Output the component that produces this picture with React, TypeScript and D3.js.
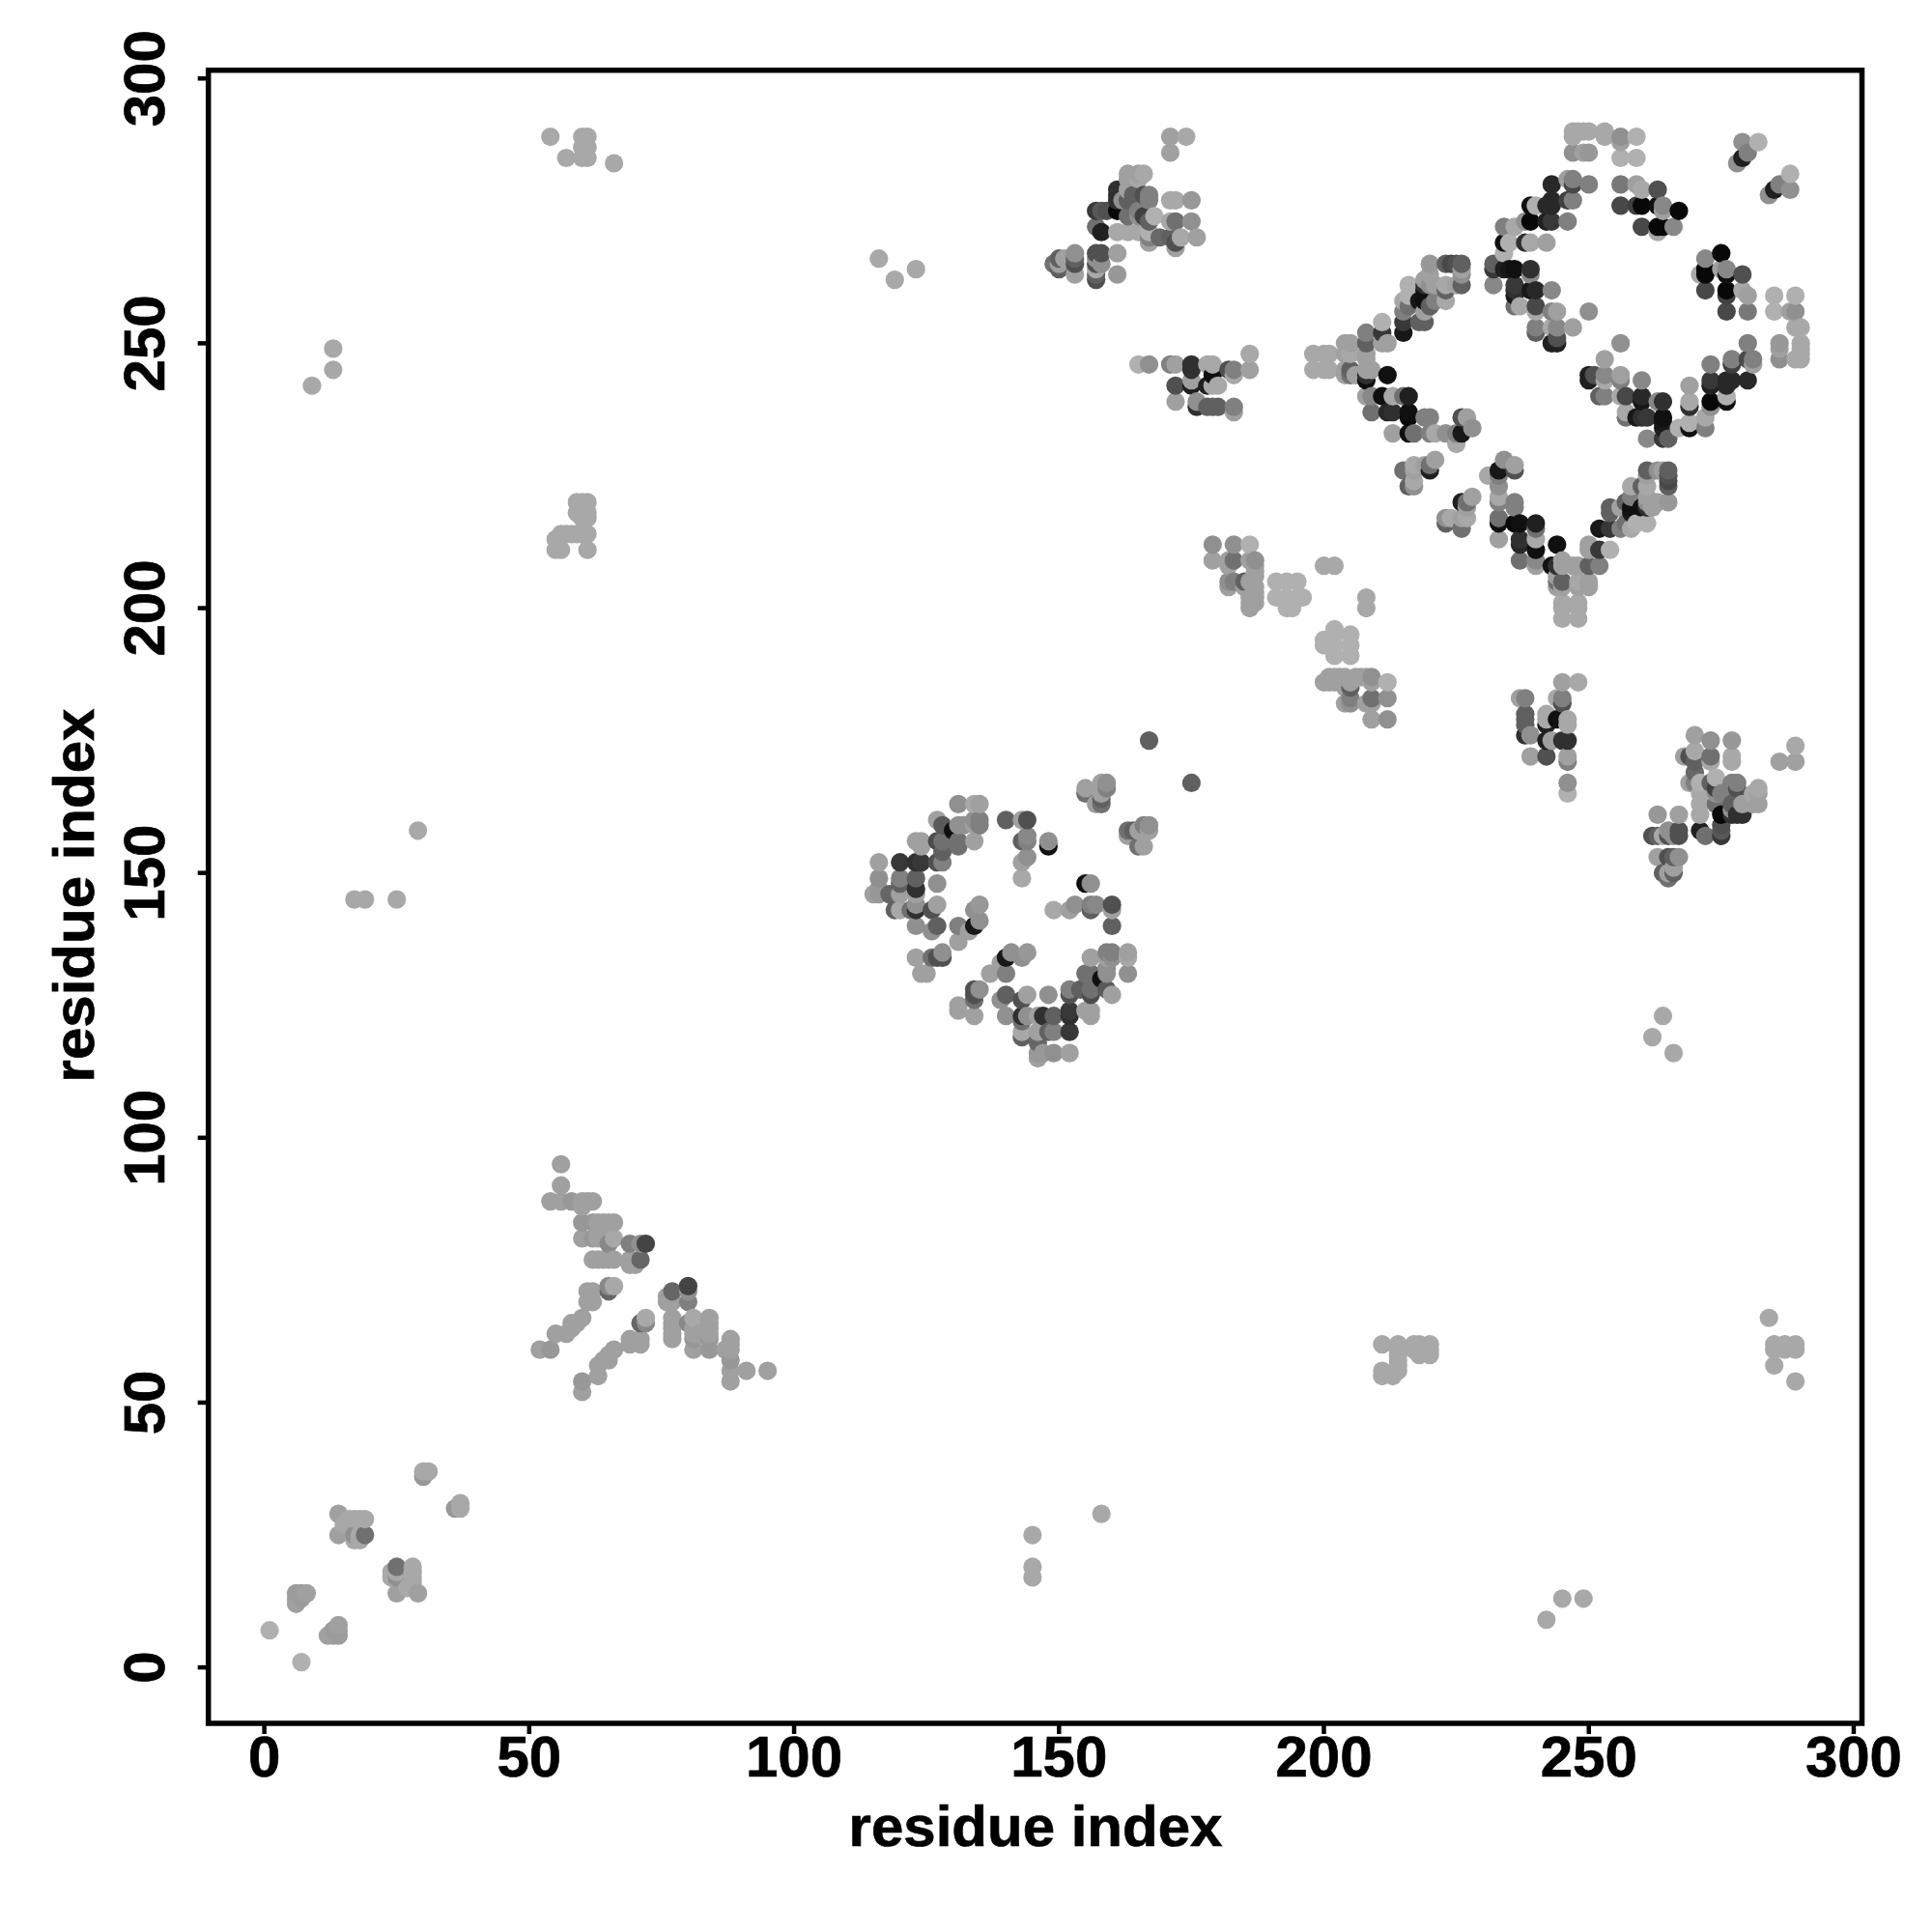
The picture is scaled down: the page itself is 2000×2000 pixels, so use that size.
import React from 'react';
import * as d3 from 'd3';

type C = [number, number, number];

const tickValues = [0, 50, 100, 150, 200, 250, 300];
const axisLabel = 'residue index';
const a = 0xa0, b = 0xa8, w = 0xb0;

const nearOrigin: C[] = [
  [1,7,w],[6,12,a],[6,13,a],[6,14,0x9c],[7,13,0x9c],[7,14,0x9c],[8,14,a],
  [14,25,a],[14,29,a],[15,27,b],[16,28,b],[17,24,b],[17,25,0x90],[17,28,b],[18,24,b],[18,25,b],[18,28,b],[19,25,0x70],[19,28,b],
  [30,36,0x98],[30,37,b],[31,37,b],
];
const farOrigin: C[] = [
  [9,242,b],[13,245,b],[13,249,b],[17,145,b],[19,145,b],[25,145,b],[29,158,b],
  [54,289,b],[57,285,b],[60,285,b],[61,285,b],[60,287,b],[61,287,b],[60,289,b],[61,289,b],[66,284,b],
  [116,266,b],[119,262,b],[123,264,b],
  [55,211,b],[56,211,b],[61,211,b],[55,213,b],[56,214,b],[57,214,b],[58,214,b],[59,214,b],[60,214,b],[61,214,b],
  [60,217,b],[61,217,b],[59,218,b],[60,218,b],[61,218,b],[59,220,b],[60,220,b],[61,220,b],
];
const helixA: C[] = [
  [52,60,a],[54,60,0x98],[55,63,a],[57,63,a],[58,64,a],[58,65,a],[59,65,a],[60,66,a],
  [54,88,a],[56,88,a],[56,91,a],[56,95,a],[58,88,0x98],[60,87,a],[60,88,a],[61,88,a],[62,88,a],
  [60,84,0x98],[60,81,a],[62,84,0x98],[63,84,a],[64,84,a],[65,84,a],[66,84,a],
  [62,81,0x98],[63,81,a],[63,82,a],[64,81,a],[66,81,b],[65,80,0x88],
  [62,77,a],[63,77,a],[64,77,a],[65,77,a],[66,77,a],
  [69,80,0x80],[71,80,0x90],[72,80,0x44],[69,76,a],[70,76,a],[69,77,a],[71,77,0x66],
  [61,71,a],[62,71,a],[61,69,a],[62,69,a],[65,71,0x66],[65,72,0x88],[66,72,b],
];
const ringA: C[] = [
  [115,146,a],[116,146,0x98],[116,147,0x98],[116,149,0x90],[116,152,a],[118,146,0x66],[119,143,0x60],[120,143,b],
  [120,146,a],[120,148,0x60],[120,149,0x80],[120,152,0x38],[122,143,0x70],[123,134,a],[123,140,0x90],[123,143,0x30],
  [123,144,0x90],[123,146,a],[123,147,0x30],[123,149,0x60],[123,152,0x30],[123,156,a],[124,131,a],[124,152,0x38],
  [124,155,a],[124,156,a],[125,131,a],[126,134,0x70],[126,139,0x90],[126,143,0x50],[127,134,0x50],[127,140,0x60],
  [127,144,a],[127,148,0x90],[127,152,0x50],[127,156,0x4c],[127,160,a],[128,134,0x50],[128,135,0x90],[128,152,0x80],
  [128,154,0x60],[128,156,0x70],[128,159,0x5a],[130,158,0x10],[131,137,a],[131,140,0x80],[131,155,0x70],[131,156,0x70],
  [131,159,0x90],[131,163,0x90],[132,159,0x90],[133,139,a],[134,140,0x18],[134,143,0x90],[134,156,a],[134,159,a],
  [134,160,0x90],[134,163,b],[135,141,0x90],[135,144,0x98],[135,159,0x80],[135,160,0x80],[135,163,a],
  [140,160,0x60],[143,149,b],[143,152,a],[143,156,0x60],[143,160,a],[144,153,0x90],[144,156,0x80],[144,157,0x88],[144,160,0x50],
  [148,155,0x10],[148,156,0x90],[155,165,0x70],[155,166,a],[157,163,a],[158,163,0x70],[158,164,0x60],[158,165,a],
  [158,167,a],[159,166,0x80],[159,167,0x90],[167,175,0x60],
];
const upperBlock: C[] = [
  [149,265,0x70],[150,264,0x60],[150,265,a],[150,266,0x60],[151,266,a],[153,263,a],[153,265,0x50],[153,266,0x60],[153,267,0x90],
  [157,262,0x50],[157,263,0x60],[157,264,b],[157,265,0x50],[157,266,0x90],[157,267,0x50],[157,272,0x70],[157,275,0x38],
  [158,265,0x90],[158,267,0x50],[158,271,0x20],[158,275,0x58],[159,275,0x50],[161,263,0x98],[161,267,a],[161,271,b],
  [161,275,0x08],[161,277,0x30],[161,278,0x30],[161,279,0x30],[162,277,0x90],[163,271,b],[163,274,0x70],[163,277,0x60],
  [163,279,a],[163,281,a],[163,282,a],[164,278,0x60],[165,271,b],[165,274,0x90],[165,275,0x80],[165,281,b],[165,282,a],
  [166,274,0x40],[166,278,0x50],[166,282,b],[167,269,a],[167,270,0x80],[167,271,w],[167,273,0x60],[167,277,0x80],[167,278,0x80],
  [168,274,w],[169,270,0x68],[171,270,0x60],[171,273,b],[171,277,b],[171,286,a],[171,289,a],[172,268,a],[172,269,0x50],
  [172,273,0x70],[172,277,b],[173,270,b],[174,289,b],[175,273,0x90],[175,277,0x98],[176,270,a],
];
const lowerBlock: C[] = [
  [165,246,w],[167,246,0x90],[171,246,0x80],[172,239,a],[172,242,0x50],[172,246,a],[175,242,0x20],[175,243,a],[175,245,0x30],[175,246,0x30],
  [176,238,0x30],[176,239,0x90],[178,238,0x60],[178,242,0x20],[178,246,b],[179,238,0x60],[179,242,b],[179,244,0x10],[179,246,b],
  [180,238,0x60],[180,242,b],[182,245,0x50],[183,237,a],[183,238,0x80],[183,244,b],[183,245,0x80],[186,245,a],[186,248,b],
];
const diagonalBlock: C[] = [
  [179,209,a],[179,212,0x90],[182,204,a],[182,205,0x90],[182,208,a],[182,209,a],[183,205,0x80],[183,209,0x70],[183,212,0x90],
  [185,204,a],[185,205,0x60],[186,200,a],[186,201,a],[186,202,a],[186,205,a],[186,209,a],[186,212,w],
  [187,201,a],[187,202,a],[187,203,a],[187,204,a],[187,206,a],[187,207,a],[187,208,a],[187,209,0x90],
  [191,202,w],[191,205,w],[193,200,w],[193,202,w],[193,205,w],[194,200,w],[194,201,w],[195,202,w],[195,205,w],[196,202,w],
  [200,208,b],[202,208,b],
];
const diamondLeft: C[] = [
  [198,245,b],[198,248,b],[200,245,b],[200,248,b],[201,245,b],[201,248,b],[204,244,a],[204,245,a],[204,248,a],[204,250,a],
  [205,244,0x70],[205,245,0x60],[205,248,b],[205,250,a],[206,244,a],[208,243,0x10],[208,244,0x30],[208,245,a],[208,247,a],
  [208,248,a],[208,250,0x60],[208,252,0x80],[209,245,a],[211,250,a],[211,252,0x38],[211,254,w],[212,244,0x10],[212,250,a],
  [208,240,a],[209,240,0x88],[209,237,0x70],[211,240,0x10],[213,240,b],[215,240,0x70],[216,240,0x20],[212,237,0x28],[213,237,0x30],
  [216,236,0x08],[216,237,0x10],[213,233,a],[216,233,0x10],[217,233,0x70],[219,236,0x80],[220,236,0x80],[220,233,0x80],[221,233,b],
  [223,233,0x90],[225,233,0x80],[226,233,0x18],[226,236,0x50],[227,236,a],[228,234,0x90],[225,231,b],
  [215,226,0x70],[216,223,0x60],[217,223,0x90],[217,224,b],[217,226,a],[217,227,b],[219,227,a],[220,226,0x20],[220,227,0x70],[221,228,a],
  [215,252,0x18],[215,254,0x38],[215,256,0x80],[215,258,b],[216,257,0x70],[216,259,w],[216,261,w],[218,254,0x60],[218,258,0x18],
  [219,254,0x60],[219,256,a],[219,258,0x10],[219,260,0x10],[219,261,0x30],[219,262,a],[220,257,0x60],[220,261,0x90],[220,263,a],[220,265,0x98],
  [221,258,0x80],[221,261,a],[223,258,b],[223,260,0x60],[223,261,b],[223,265,0x60],[224,265,0x48],[225,261,a],[225,265,0x50],
  [226,261,0x60],[226,263,0x90],[226,264,a],[226,265,0x60],
];
const diamondTop: C[] = [
  [232,261,0x88],[232,264,0x38],[232,265,0x60],[234,267,w],[234,269,0x10],[234,272,0x80],[234,264,0x20],[235,264,0x18],[235,269,w],
  [236,257,0x70],[236,259,0x18],[236,260,0x30],[236,261,0x38],[236,264,0x10],[236,272,b],[237,257,b],[238,269,0x30],[238,273,0x90],
  [239,260,0x18],[239,263,0x88],[239,264,0x30],[239,269,b],[239,273,0x08],[239,276,0x10],[240,252,0x60],[240,253,0x80],[240,256,b],
  [240,257,0x48],[240,260,0x28],[240,276,w],[242,269,a],[242,273,0x20],[242,276,0x28],[243,250,0x20],[243,253,b],[243,256,0x80],
  [243,260,0x88],[243,273,0x38],[243,276,0x28],[243,277,0x28],[243,280,0x28],[244,250,0x20],[244,251,0x50],[244,253,0x88],[244,256,a],
  [246,273,0x80],[246,277,0x40],[246,281,a],[247,253,a],[247,277,0x80],[247,280,0x48],[247,281,0x80],[247,286,0x90],[247,289,b],
  [247,290,b],[248,290,b],[249,286,a],[249,290,b],[250,256,0x90],[250,280,0x80],[250,286,0x98],[250,290,b],[253,289,b],[253,290,b],
  [256,276,0x48],[256,280,0x78],[256,285,w],[256,288,a],[256,289,0x90],[259,276,0x40],[259,280,a],[259,285,w],[259,289,w],
  [260,272,0x48],[260,276,0x08],[260,279,b],[263,271,b],[263,272,0x08],[263,276,0x10],[263,279,0x50],[264,272,0x08],[264,275,a],
  [264,276,0x88],[266,272,0x88],[267,275,0x08],[278,284,0x90],[279,285,0x20],[279,288,0x90],[280,286,0x80],[282,288,w],
];
const diamondInner: C[] = [
  [233,213,a],[233,216,0x10],[233,217,0x60],[233,221,b],[233,223,0x90],[233,226,0x18],[234,228,0x90],[236,216,0x08],[236,219,0x70],[236,226,a],
  [237,209,0x70],[237,212,0x28],[240,208,a],[240,211,0x08],[240,213,b],[240,216,0x20],
];

const clusters = [nearOrigin, farOrigin, helixA, ringA, upperBlock, lowerBlock, diagonalBlock, diamondLeft, diamondTop, diamondInner];

const X0 = 215.7, X1 = 1927.5, Y0 = 1784, Y1 = 72.7;
const x = d3.scaleLinear().domain([-10.56, 301.56]).range([X0, X1]);
const y = d3.scaleLinear().domain([-10.56, 301.56]).range([Y0, Y1]);

const seen = new Set<string>();
const points: C[] = [];
for (const [p, q, g] of clusters.flat()) {
  for (const [m, n] of [[p, q], [q, p]]) {
    const key = m + ',' + n;
    if (!seen.has(key)) { seen.add(key); points.push([m, n, g]); }
  }
}
points.sort((s, t) => d3.ascending(s[0], t[0]) || d3.ascending(s[1], t[1]));

const font = '"Liberation Sans", Arial, sans-serif';

export default function App() {
  return (
    <svg width={2000} height={2000} viewBox="0 0 2000 2000" style={{ position: 'absolute', left: 0, top: 0, background: '#fff' }}>
      <g>
        {points.map(([m, n, g]) => (
          <circle key={m + '-' + n} cx={x(m)} cy={y(n)} r={9.6} fill={d3.rgb(g, g, g).formatHex()} />
        ))}
      </g>
      <rect x={X0} y={Y1} width={X1 - X0} height={Y0 - Y1} fill="none" stroke="#000" strokeWidth={5.5} />
      <g fontFamily={font} fontWeight="bold" fontSize={60} fill="#000" stroke="#000" strokeWidth={0.7}>
        {tickValues.map(t => (
          <g key={'x' + t}>
            <line x1={x(t)} x2={x(t)} y1={Y0} y2={Y0 + 11} stroke="#000" strokeWidth={4.5} />
            <text x={x(t)} y={1839} textAnchor="middle">{t}</text>
          </g>
        ))}
        {tickValues.map(t => (
          <g key={'y' + t}>
            <line x1={X0} x2={X0 - 11} y1={y(t)} y2={y(t)} stroke="#000" strokeWidth={4.5} />
            <text transform={`translate(170,${y(t)}) rotate(-90)`} textAnchor="middle">{t}</text>
          </g>
        ))}
        <text x={1072} y={1911} textAnchor="middle">{axisLabel}</text>
        <text transform={`translate(97,927) rotate(-90)`} textAnchor="middle">{axisLabel}</text>
      </g>
    </svg>
  );
}
